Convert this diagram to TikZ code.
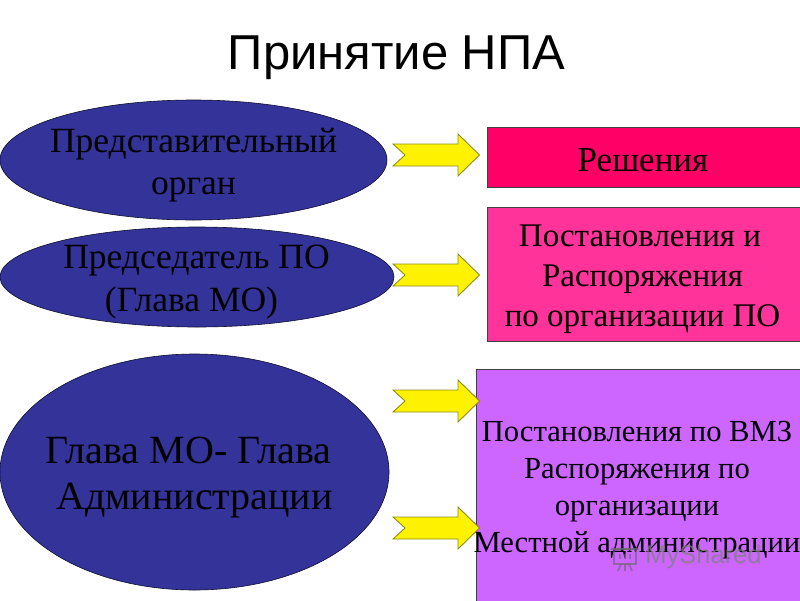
\documentclass[tikz,border=0pt]{standalone}
\usepackage{fontspec}
\setmainfont{Liberation Serif}
\newfontfamily\titlefont{Liberation Sans}
\usetikzlibrary{shapes.geometric}
\definecolor{ovalblue}{HTML}{333399}
\definecolor{boxred}{HTML}{FF0066}
\definecolor{boxpink}{HTML}{FF3399}
\definecolor{boxviolet}{HTML}{CC66FF}
\definecolor{arrowedge}{HTML}{8C8C1E}
\newcommand{\bodyfont}[2]{\fontsize{#1}{#2}\selectfont}
\tikzset{
  x=1pt,y=-1pt,
  oval/.style={ellipse,draw=black!70!ovalblue,line width=0.6pt,fill=ovalblue,inner sep=0pt},
  panel/.style={rectangle,draw=black!75,line width=0.6pt,inner sep=0pt},
  caption/.style={inner sep=0pt,align=center,text=black},
  flowarrow/.style={fill=yellow,draw=arrowedge,line width=0.9pt},
  stamp/.style={draw=black!60,opacity=0.6,line width=1.6pt}
}
\newcommand{\flowarrow}[2]{%
  \coordinate (#1) at (0,#2);
  \draw[flowarrow] (393,#2-11) -- (458,#2-11) -- (458,#2-21) -- (479.5,#2) -- (458,#2+21) -- (458,#2+11) -- (393,#2+11) -- (405,#2) -- cycle;
}
\begin{document}
\begin{tikzpicture}
\useasboundingbox (0,0) rectangle (800,600);
\fill[white] (0,0) rectangle (800,600);
\node[font=\titlefont\fontsize{49}{49}\selectfont] (title) at (396.5,58) {Принятие НПА};
\node[oval,minimum width=387,minimum height=120] (o1) at (193.5,160) {};
\node[oval,minimum width=394,minimum height=100] (o2) at (197,277) {};
\node[oval,minimum width=389,minimum height=236] (o3) at (194.5,472) {};
\node[panel,fill=boxred,minimum width=316,minimum height=60] (p1) at (645,157) {};
\node[panel,fill=boxpink,minimum width=316,minimum height=134] (p2) at (645,274) {};
\node[panel,fill=boxviolet,minimum width=332,minimum height=232] (p3) at (642,485) {};
\node[caption,font=\bodyfont{35.5}{42}] (to1) at (193.5,165.5)
  {Представительный\\орган};
\node[caption,font=\bodyfont{35.5}{43}] (to2) at (191.5,282)
  {\hspace*{10pt}Председатель ПО\\(Глава МО)};
\node[caption,font=\bodyfont{40}{46}] (to3) at (191.5,478)
  {Глава МО- Глава\hspace*{6pt}\\\hspace*{6pt}Администрации};
\node[caption,font=\bodyfont{35}{40}] (tp1) at (643,160) {Решения};
\node[caption,font=\bodyfont{33}{40}] (tp2) at (642.5,279)
  {Постановления и\hspace*{5pt}\\Распоряжения\\по организации ПО};
\node[caption,font=\bodyfont{30.6}{37}] (tp3) at (637,490)
  {Постановления по ВМЗ\\Распоряжения по\hspace*{20pt}\\организации\\Местной администрации};
\flowarrow{a1}{155}
\flowarrow{a2}{275}
\flowarrow{a3}{401}
\flowarrow{a4}{528}
\node[font=\titlefont\fontsize{25.5}{25.5}\selectfont,text=black!50,opacity=0.75] (wm) at (703.5,557) {MyShared};
\draw[stamp] (611,549) -- (639,549);
\draw[stamp] (614,549) rectangle (636,564);
\draw[stamp] (621,564) -- (618,571) (629,564) -- (632,571) (625,564) -- (625,571);
\draw[stamp] (620,554) -- (620,559) (625,554) -- (625,559) (630,554) -- (630,559);
\end{tikzpicture}
\end{document}
